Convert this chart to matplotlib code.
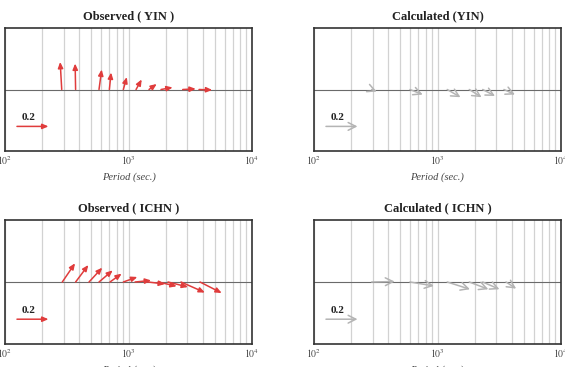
import numpy as np
import matplotlib.pyplot as plt
from matplotlib.ticker import NullFormatter
from matplotlib.transforms import ScaledTranslation

plt.rcParams['font.family'] = ['Liberation Serif', 'DejaVu Serif']
plt.rcParams['mathtext.fontset'] = 'stix'

# arrows: tail period (s), horizontal / vertical components
obs_yin_period = [288, 373, 577, 700, 908, 1151, 1466, 1833, 2748, 3724]
obs_yin_u = [-0.010, -0.003, 0.017, 0.011, 0.022, 0.036, 0.049, 0.074, 0.083, 0.084]
obs_yin_v = [0.175, 0.165, 0.127, 0.108, 0.079, 0.064, 0.035, 0.013, 0.004, -0.003]

calc_yin_period = [293, 598, 1199, 1808, 2323, 3450]
calc_yin_u = [0.032, 0.081, 0.084, 0.078, 0.078, 0.070]
calc_yin_v = [-0.013, -0.032, -0.049, -0.049, -0.041, -0.032]

obs_ichn_period = [291, 373, 479, 577, 708, 908, 1130, 1438, 1743, 2089, 2661, 3793]
obs_ichn_u = [0.081, 0.081, 0.084, 0.087, 0.074, 0.089, 0.102, 0.108, 0.117, 0.127, 0.152, 0.138]
obs_ichn_v = [0.119, 0.108, 0.091, 0.074, 0.053, 0.032, 0.010, -0.013, -0.027, -0.032, -0.067, -0.070]

calc_ichn_period = [293, 598, 1199, 1808, 2323, 3590]
calc_ichn_u = [0.146, 0.152, 0.144, 0.121, 0.106, 0.064]
calc_ichn_v = [0.003, -0.025, -0.046, -0.046, -0.046, -0.042]

ref_len = 0.2
ref_period = 125
ref_y = -0.6

RED = '#e03c3c'
GREY = '#b4b4b4'
INCH_PER_UNIT = 1.575  # 0.2 -> ~0.315 in

fig = plt.figure(figsize=(5.65, 3.67), dpi=100)


def arrow(ax, p, y, u, v, color, style):
    head = ax.transData + ScaledTranslation(u * INCH_PER_UNIT, v * INCH_PER_UNIT,
                                            fig.dpi_scale_trans)
    ax.annotate('', xy=(p, y), xycoords=head, xytext=(p, y), textcoords='data',
                arrowprops=dict(arrowstyle=style, color=color, lw=1.1,
                                shrinkA=0, shrinkB=0))


def panel(rect, title, periods, us, vs, color, style):
    ax = fig.add_axes(rect)
    ax.set_xscale('log')
    ax.set_xlim(100, 10000)
    ax.set_ylim(-1, 1)
    ax.set_xticks([100, 1000, 10000])
    ax.set_xticklabels(['$10^2$', '$10^3$', '$10^4$'])
    ax.xaxis.set_minor_formatter(NullFormatter())
    ax.set_yticks([])
    ax.tick_params(axis='x', which='both', length=0, pad=2, labelsize=7,
                   labelcolor='#444444')
    ax.grid(which='both', axis='x', color='#d2d2d2', lw=0.9)
    ax.axhline(0, color='#6a6a6a', lw=0.8)
    for s in ax.spines.values():
        s.set_color('#333333')
        s.set_linewidth(1.2)
    ax.set_title(title, fontsize=9, fontweight='bold', color='#222222', pad=6)
    ax.set_xlabel('Period (sec.)', fontsize=7.5, style='italic', color='#444444',
                  labelpad=4)
    for p, u, v in zip(periods, us, vs):
        arrow(ax, p, 0, u, v, color, style)
    arrow(ax, ref_period, ref_y, ref_len, 0, color, style)
    ax.text(155, ref_y + 0.14, '0.2', fontsize=8, fontweight='bold',
            color='#222222', ha='center', va='center')
    return ax


red_style = '-|>,head_length=0.35,head_width=0.15'
grey_style = '->,head_length=0.55,head_width=0.28'

left, w = 5 / 565, 247 / 565
left2 = 314 / 565
top_b, h = 1 - 151 / 367, 123 / 367
bot_b = 1 - 344 / 367

panel([left, top_b, w, h], 'Observed ( YIN )',
      obs_yin_period, obs_yin_u, obs_yin_v, RED, red_style)
panel([left2, top_b, w, h], 'Calculated (YIN)',
      calc_yin_period, calc_yin_u, calc_yin_v, GREY, grey_style)
panel([left, bot_b, w, 124 / 367], 'Observed ( ICHN )',
      obs_ichn_period, obs_ichn_u, obs_ichn_v, RED, red_style)
panel([left2, bot_b, w, 124 / 367], 'Calculated ( ICHN )',
      calc_ichn_period, calc_ichn_u, calc_ichn_v, GREY, grey_style)

fig.savefig('out.png', dpi=100)
